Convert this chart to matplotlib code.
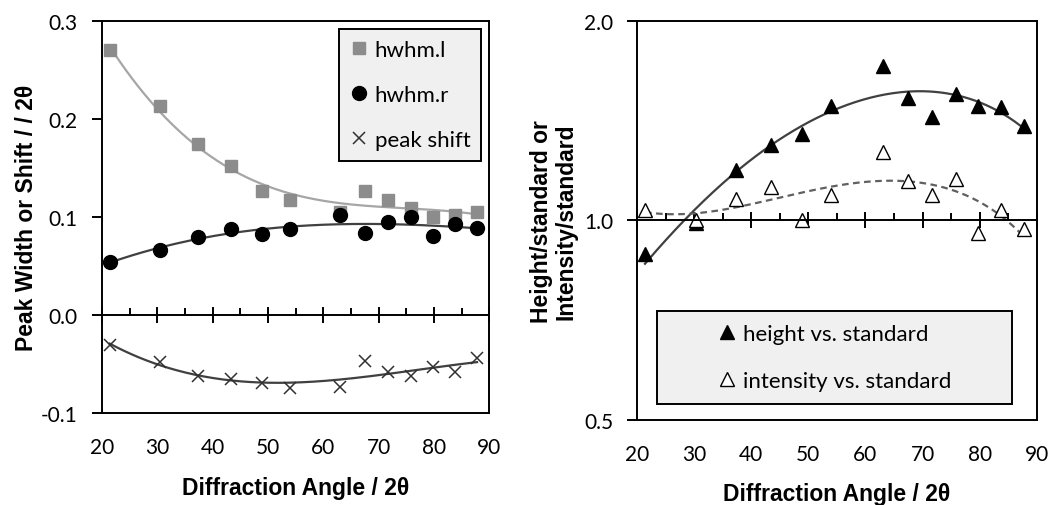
import numpy as np
import matplotlib.pyplot as plt
from matplotlib.patches import Rectangle
from matplotlib.lines import Line2D

# values
angle = [21.4, 30.4, 37.4, 43.4, 48.9, 54.0, 63.1, 67.5, 71.7, 75.8, 79.8, 83.8, 87.8]
hwhm_l = [0.270, 0.213, 0.174, 0.152, 0.126, 0.117, 0.105, 0.126, 0.117, 0.109, 0.100, 0.102, 0.105]
hwhm_r = [0.054, 0.066, 0.079, 0.088, 0.082, 0.088, 0.102, 0.083, 0.095, 0.100, 0.080, 0.093, 0.089]
peak_shift = [-0.031, -0.048, -0.062, -0.065, -0.070, -0.075, -0.074, -0.047, -0.058, -0.062, -0.053, -0.058, -0.044]

height = [0.89, 0.99, 1.19, 1.30, 1.35, 1.49, 1.71, 1.53, 1.43, 1.55, 1.49, 1.48, 1.39]
intensity = [1.035, 1.00, 1.078, 1.123, 1.003, 1.094, 1.269, 1.146, 1.091, 1.156, 0.957, 1.035, 0.971]

xticks = [20, 30, 40, 50, 60, 70, 80, 90]

tick_font = 'Lato'
label_font = 'Liberation Sans'
TICK_FS = 15
LABEL_FS = 16.5
LEG_FS = 16

plt.rcParams['font.family'] = tick_font
plt.rcParams['axes.linewidth'] = 1.4

fig = plt.figure(figsize=(10.52, 5.06), dpi=100)
ax1 = fig.add_axes([0.097, 0.182, 0.368, 0.775])
ax2 = fig.add_axes([0.6055, 0.168, 0.380, 0.789])

xs = np.linspace(min(angle), max(angle), 200)


def trend(x, y, deg=3):
    return np.polyval(np.polyfit(x, y, deg), xs)


def cross_axis(ax, y0):
    # x axis drawn through the middle of the plot, labels kept at the bottom
    ax.spines['bottom'].set_position(('data', y0))
    ax.set_xlim(20, 90)
    ax.set_xticks(xticks)
    ax.set_xticks(np.arange(25, 90, 10), minor=True)
    ax.tick_params(axis='x', which='major', direction='inout', length=11, width=1.4, labelbottom=False)
    ax.tick_params(axis='x', which='minor', direction='in', length=5, width=1.4)
    sec = ax.secondary_xaxis('bottom')
    sec.set_xticks(xticks)
    sec.tick_params(length=0, pad=17, labelsize=TICK_FS)
    sec.spines['bottom'].set_linewidth(1.4)
    return sec


# left panel
ax1.plot(xs, trend(angle, hwhm_l, 3), color='#a6a6a6', lw=1.6)
ax1.plot(xs, trend(angle, hwhm_r, 3), color='#404040', lw=1.6)
ax1.plot(xs, trend(angle, peak_shift, 3), color='#404040', lw=1.6)
ax1.plot(angle, hwhm_l, 's', color='#8c8c8c', ms=9, label='hwhm.l')
ax1.plot(angle, hwhm_r, 'o', color='black', ms=10, label='hwhm.r')
ax1.plot(angle, peak_shift, 'x', color='#303030', ms=9, mew=1.1, label='peak shift')
ax1.set_ylim(-0.1, 0.3)
ax1.set_yticks([-0.1, 0.0, 0.1, 0.2, 0.3])
ax1.set_yticklabels(['-0.1', '0.0', '0.1', '0.2', '0.3'])
ax1.tick_params(axis='y', direction='out', length=7, width=1.4, labelsize=TICK_FS, pad=11)
sec1 = cross_axis(ax1, 0.0)
sec1.set_xlabel('Diffraction Angle / 2θ', fontsize=LABEL_FS, fontweight='bold', family=label_font, labelpad=14)
ax1.set_ylabel('Peak Width or Shift / / 2θ', fontsize=LABEL_FS, fontweight='bold', family=label_font, labelpad=2)
leg1 = ax1.legend(loc='upper right', fontsize=LEG_FS, frameon=True, fancybox=False, edgecolor='black',
                  facecolor='#f0f0f0', framealpha=1, labelspacing=1.13, handlelength=0.8,
                  handletextpad=0.3, borderpad=0.5, borderaxespad=0.35)
leg1.get_frame().set_linewidth(1.4)

# right panel
ax2.set_yscale('log', base=2)
ax2.plot(xs, trend(angle, height, 3), color='#404040', lw=1.6)
ax2.plot(xs, trend(angle, intensity, 3), color='#606060', lw=1.6, ls=(0, (3, 2)))
ax2.plot(angle, height, '^', color='black', ms=10)
ax2.plot(angle, intensity, '^', mfc='white', mec='black', mew=1.0, ms=10)
ax2.set_ylim(0.5, 2.0)
ax2.set_yticks([0.5, 1.0, 2.0])
ax2.set_yticklabels(['0.5', '1.0', '2.0'])
ax2.yaxis.set_minor_locator(plt.NullLocator())
ax2.tick_params(axis='y', direction='out', length=7, width=1.4, labelsize=TICK_FS, pad=10)
sec2 = cross_axis(ax2, 1.0)
sec2.set_xlabel('Diffraction Angle / 2θ', fontsize=LABEL_FS, fontweight='bold', family=label_font, labelpad=13)
ax2.set_ylabel('Height/standard or\nIntensity/standard', fontsize=LABEL_FS, fontweight='bold',
               family=label_font, labelpad=5, linespacing=1.05)

ax2.add_patch(Rectangle((0.05, 0.04), 0.8875, 0.233, transform=ax2.transAxes,
                        facecolor='#f0f0f0', edgecolor='black', lw=1.4, zorder=3))
handles = [Line2D([], [], ls='', marker='^', color='black', ms=10),
           Line2D([], [], ls='', marker='^', mfc='white', mec='black', ms=10)]
leg2 = ax2.legend(handles, ['height vs. standard', 'intensity vs. standard'],
                  loc='center', bbox_to_anchor=(0.494, 0.157), frameon=False, fontsize=LEG_FS,
                  labelspacing=1.2, handlelength=0.8, handletextpad=0.3)
leg2.set_zorder(4)

fig.savefig('out.png', dpi=100)
